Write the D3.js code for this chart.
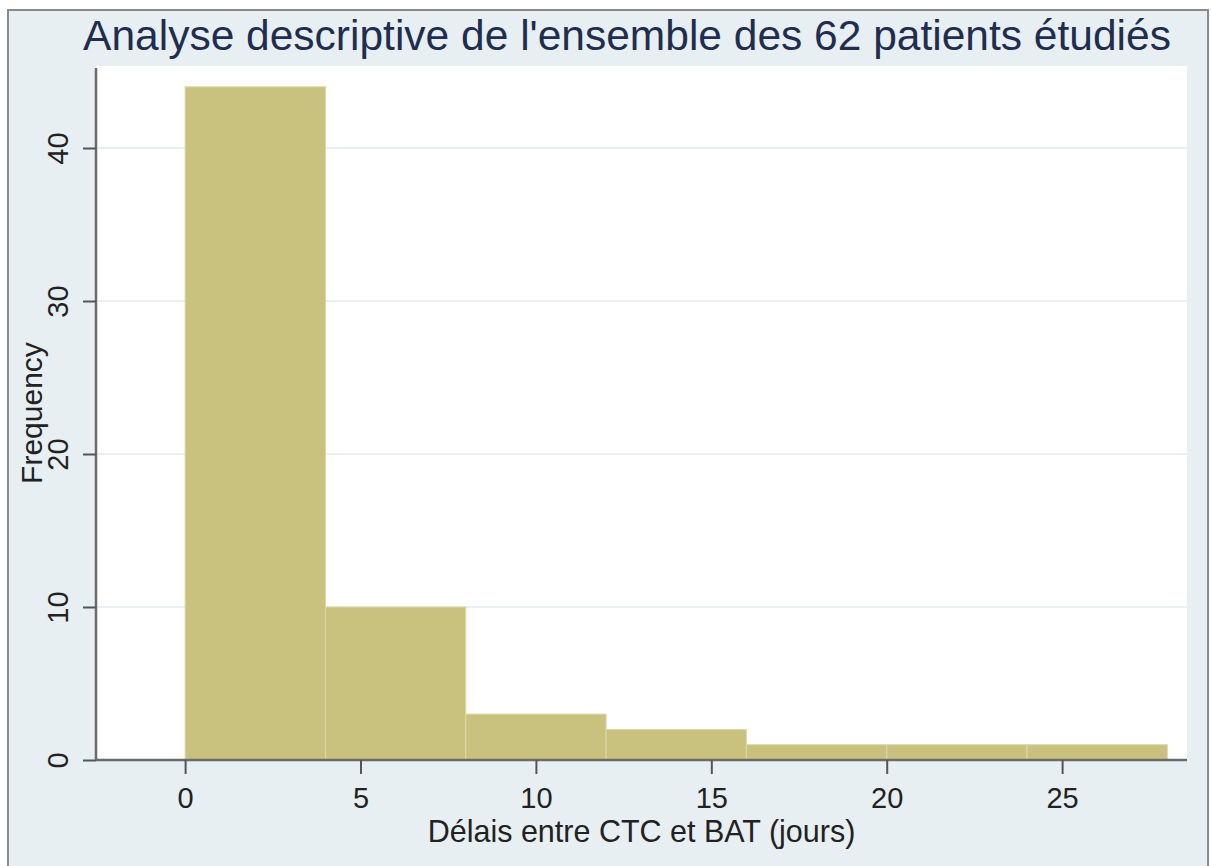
<!DOCTYPE html>
<html>
<head>
<meta charset="utf-8">
<script src="https://cdn.jsdelivr.net/npm/d3@7"></script>
<style>
  body { margin: 0; background: #ffffff; }
  svg { display: block; font-family: Arial, "Liberation Sans", sans-serif; }
</style>
</head>
<body>
<svg id="chart" width="1211" height="866"></svg>
<script>
// histogram data - bins of 4 days
var binStarts = [0, 4, 8, 12, 16, 20, 24];
var binWidth = 4;
var frequencies = [44, 10, 3, 2, 1, 1, 1];
var xTicks = [0, 5, 10, 15, 20, 25];
var yTicks = [0, 10, 20, 30, 40];

var titleText = "Analyse descriptive de l'ensemble des 62 patients étudiés";
var xTitle = "Délais entre CTC et BAT (jours)";
var yTitle = "Frequency";

var svg = d3.select("#chart");

// plot region
var plotLeft = 96, plotRight = 1187, plotTop = 66, plotBottom = 760;

var x = d3.scaleLinear().domain([-2.54, 28.56]).range([plotLeft, plotRight]);
var y = d3.scaleLinear().domain([0, 45.36]).range([plotBottom, plotTop]);

//OUTER FRAME////////////////////////
svg.append("rect")
  .attr("x", 8).attr("y", 10)
  .attr("width", 1200).attr("height", 870)
  .attr("fill", "#e8eff3")
  .attr("stroke", "#8a8a8a")
  .attr("stroke-width", 2);

svg.append("rect")
  .attr("x", plotLeft).attr("y", plotTop)
  .attr("width", plotRight - plotLeft).attr("height", plotBottom - plotTop)
  .attr("fill", "#ffffff");

//GRID///////////////////////////////
svg.append("g")
  .selectAll("line")
  .data(yTicks.filter(function (d) { return d > 0; }))
  .join("line")
  .attr("x1", plotLeft).attr("x2", plotRight)
  .attr("y1", function (d) { return y(d); })
  .attr("y2", function (d) { return y(d); })
  .attr("stroke", "#e3edf1")
  .attr("stroke-width", 1.5);

//BARS///////////////////////////////
svg.append("g")
  .selectAll("rect")
  .data(binStarts)
  .join("rect")
  .attr("x", function (d) { return x(d); })
  .attr("width", function (d) { return x(d + binWidth) - x(d); })
  .attr("y", function (d, i) { return y(frequencies[i]); })
  .attr("height", function (d, i) { return y(0) - y(frequencies[i]); })
  .attr("fill", "#c9c27f")
  .attr("stroke", "#ddd8a6")
  .attr("stroke-width", 1);

//AXES///////////////////////////////
var xAxis = svg.append("g")
  .attr("transform", "translate(0," + plotBottom + ")")
  .call(d3.axisBottom(x).tickValues(xTicks).tickSize(14).tickSizeOuter(0).tickFormat(d3.format("d")));

xAxis.select(".domain")
  .attr("d", "M" + plotLeft + ",0H" + plotRight)
  .attr("stroke", "#6b6b6b").attr("stroke-width", 2.5);
xAxis.selectAll(".tick line").attr("stroke", "#555").attr("stroke-width", 2);
xAxis.selectAll(".tick text")
  .attr("y", 48).attr("dy", 0)
  .attr("font-size", 29)
  .attr("fill", "#222");

var yAxis = svg.append("g")
  .attr("transform", "translate(" + plotLeft + ",0)")
  .call(d3.axisLeft(y).tickValues(yTicks).tickSize(13).tickSizeOuter(0).tickFormat(d3.format("d")));

yAxis.select(".domain")
  .attr("d", "M0," + (plotTop + 2) + "V" + plotBottom)
  .attr("stroke", "#6b6b6b").attr("stroke-width", 2.5);
yAxis.selectAll(".tick line").attr("stroke", "#555").attr("stroke-width", 2);
yAxis.selectAll(".tick text")
  .attr("transform", "rotate(-90)")
  .attr("x", 0).attr("y", -28).attr("dy", 0)
  .attr("text-anchor", "middle")
  .attr("font-size", 29)
  .attr("fill", "#222");

//TITLES/////////////////////////////
svg.append("text")
  .attr("x", 627).attr("y", 50)
  .attr("text-anchor", "middle")
  .attr("font-size", 42.5)
  .attr("fill", "#1e2d50")
  .text(titleText);

svg.append("text")
  .attr("x", (plotLeft + plotRight) / 2).attr("y", 842)
  .attr("text-anchor", "middle")
  .attr("font-size", 30.5)
  .attr("fill", "#222")
  .text(xTitle);

svg.append("text")
  .attr("transform", "translate(42," + (plotTop + plotBottom) / 2 + ") rotate(-90)")
  .attr("text-anchor", "middle")
  .attr("font-size", 30)
  .attr("fill", "#222")
  .text(yTitle);
</script>
</body>
</html>
